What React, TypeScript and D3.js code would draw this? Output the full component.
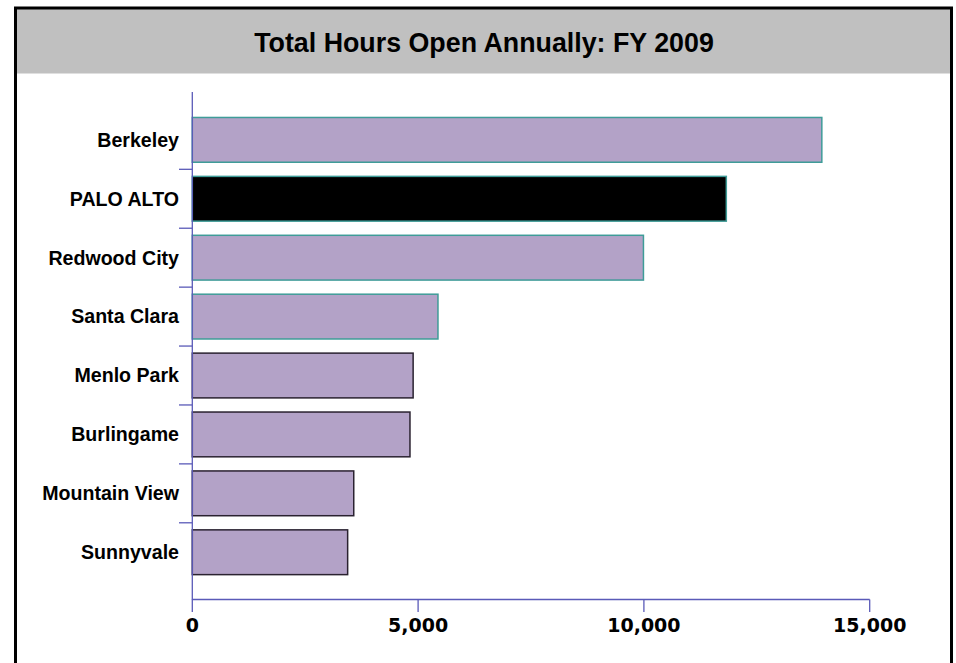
import React from "react";
import * as d3 from "d3";

const categories = ["Berkeley", "PALO ALTO", "Redwood City", "Santa Clara", "Menlo Park", "Burlingame", "Mountain View", "Sunnyvale"];
const hours = [13940, 11825, 9990, 5440, 4890, 4820, 3575, 3440];
const highlight = "PALO ALTO";
const tealOutlined = ["Berkeley", "PALO ALTO", "Redwood City", "Santa Clara"];
const xTicks = [0, 5000, 10000, 15000];
const title = "Total Hours Open Annually: FY 2009";

export default function App() {
  const W = 956, H = 663;
  const x = d3.scaleLinear().domain([0, 15000]).range([192.3, 869.7]);
  const y = d3.scaleBand<string>().domain(categories).range([110.4, 581.7]).padding(0);
  const step = y.step();
  const axisColor = "#5a5ab8";
  const fmt = d3.format(",");
  const boundaries = categories.slice(1).map((c) => y(c)!);

  return (
    <div style={{ position: "absolute", left: 0, top: 0 }}>
      <svg width={W} height={H} style={{ display: "block" }}>
        <rect x={0} y={0} width={W} height={H} fill="#ffffff" />
        {/* title bar */}
        <rect x={17} y={9} width={934} height={64.5} fill="#c0c0c0" />
        {/* frame */}
        <path d={`M15.5,${H} V8 H951.5 V${H}`} fill="none" stroke="#000" strokeWidth={3} />
        <text x={484} y={52} textAnchor="middle" fontFamily="'Liberation Sans', Arial, sans-serif" fontWeight="bold" fontSize={26.8} fill="#000">
          {title}
        </text>

        {/* bars */}
        {categories.map((c, i) => {
          const y0 = y(c)! + step * 0.12;
          const h = step * 0.76;
          const isHi = c === highlight;
          const teal = tealOutlined.includes(c);
          return (
            <rect
              key={c}
              x={x(0)}
              y={y0}
              width={x(hours[i]) - x(0)}
              height={h}
              fill={isHi ? "#000000" : "#b3a2c7"}
              stroke={teal ? "#3f9c98" : "#2a2230"}
              strokeWidth={1.5}
            />
          );
        })}

        {/* y axis */}
        <line x1={192.3} x2={192.3} y1={92} y2={600} stroke={axisColor} strokeWidth={1.3} />
        {boundaries.map((b, i) => (
          <line key={i} x1={179} x2={192.3} y1={b} y2={b} stroke={axisColor} strokeWidth={1.3} />
        ))}
        {categories.map((c) => (
          <text
            key={c}
            x={179}
            y={y(c)! + step / 2}
            dy="0.35em"
            textAnchor="end"
            fontFamily="'Liberation Sans', Arial, sans-serif"
            fontWeight="bold"
            fontSize={19.6}
            fill="#000"
          >
            {c}
          </text>
        ))}

        {/* x axis */}
        <line x1={192.3} x2={869.7} y1={599.5} y2={599.5} stroke={axisColor} strokeWidth={1.3} />
        {xTicks.map((t) => (
          <g key={t}>
            <line x1={x(t)} x2={x(t)} y1={599.5} y2={612} stroke={axisColor} strokeWidth={1.3} />
            <text
              x={x(t)}
              y={632}
              textAnchor="middle"
              fontFamily="'DejaVu Sans', Verdana, sans-serif"
              fontWeight="bold"
              fontSize={19}
              fill="#000"
            >
              {fmt(t)}
            </text>
          </g>
        ))}
      </svg>
    </div>
  );
}
